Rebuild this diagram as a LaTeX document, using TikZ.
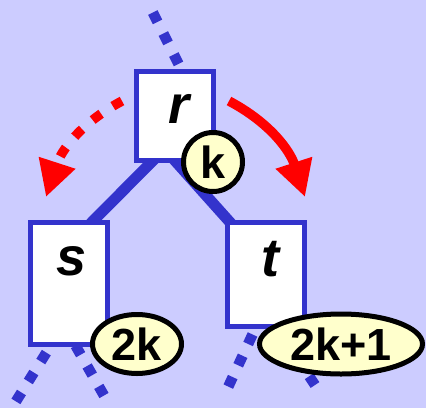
\documentclass[tikz,border=0pt]{standalone}
\usepackage{fontspec}
\setmainfont{Liberation Sans}
\usetikzlibrary{arrows.meta,calc,shapes.geometric}
\definecolor{bgc}{HTML}{CCCCFF}
\definecolor{blu}{HTML}{3333CC}
\definecolor{yel}{HTML}{FFFFCC}
\pgfdeclarelayer{backmost}
\pgfdeclarelayer{back}
\pgfsetlayers{backmost,back,main}
\begin{document}
\begin{tikzpicture}[x=1pt,y=1pt,
 box/.style={draw=blu,fill=white,line width=5pt,minimum width=77pt,inner sep=0pt,rectangle},
 lett/.style={font=\fontsize{54}{54}\selectfont\bfseries\itshape,inner sep=0pt},
 num/.style={font=\fontsize{45}{45}\selectfont\bfseries},
 badge/.style={draw=black,fill=yel,line width=5pt,ellipse,inner sep=0pt},
 dotline/.style={blu,line width=10.5pt,dash pattern=on 10.5pt off 13pt},
 treeedge/.style={blu,line width=11pt,shorten <=-6pt,shorten >=-6pt},
 redline/.style={red,line width=9.5pt,-{Triangle[length=36pt,width=36pt]}},
]
\begin{pgfonlayer}{backmost}
\fill[bgc] (0,0) rectangle (426,-408);
\end{pgfonlayer}
\useasboundingbox (0,0) rectangle (426,-408);

% boxes
\node[box,minimum height=89pt] (r) at (175,-116) {};
\node[box,minimum height=122pt] (s) at (69,-283.5) {};
\node[box,minimum height=104pt] (t) at (266,-274.5) {};

\node[lett] (rl) at (179,-109) {r};
\node[lett] (sl) at (71.5,-261) {s};
\node[lett] (tl) at (270,-259) {t};

% dotted continuation coordinates
\coordinate (top0) at (152.8,-12.5);
\coordinate (top1) at (184,-75);
\coordinate (sa0) at (15.9,-401.4);
\coordinate (sa1) at (54.2,-340);
\coordinate (sb0) at (104,-395.5);
\coordinate (sb1) at (72.3,-340);
\coordinate (ta0) at (228.3,-386.6);
\coordinate (ta1) at (258.3,-322);
\coordinate (tb0) at (315,-385);
\coordinate (tb1) at (273,-322);

\begin{pgfonlayer}{back}
\draw[dotline] (top0) -- (top1);
\draw[dotline] (sa0) -- (sa1);
\draw[dotline] (sb0) -- (sb1);
\draw[dotline] (ta0) -- (ta1);
\draw[dotline] (tb0) -- (tb1);
\draw[treeedge] ($(r.south)+(-24.5,0)$) -- ($(s.north)+(25,0)$);
\draw[treeedge] ($(r.south)+(2,0)$) -- ($(t.north west)+(3,0)$);
\end{pgfonlayer}

% badges
\node[badge,num,circle,minimum size=59pt] (kb) at (213,-162) {k};
\node[badge,num,minimum width=89pt,minimum height=59pt] (b2k) at (137,-344) {2k};
\node[badge,num,minimum width=163pt,minimum height=60pt] (b2k1) at (341,-344) {2k+1};

% red arrows
\coordinate (ra0) at (229,-101);
\coordinate (ra1) at (305,-197);
\coordinate (la0) at (122,-101);
\coordinate (la1) at (46,-197);
\draw[redline] (ra0) to[out=-28,in=108] (ra1);
\draw[redline,dash pattern=on 10.5pt off 14pt] (la0) to[out=208,in=72] (la1);
\end{tikzpicture}
\end{document}
